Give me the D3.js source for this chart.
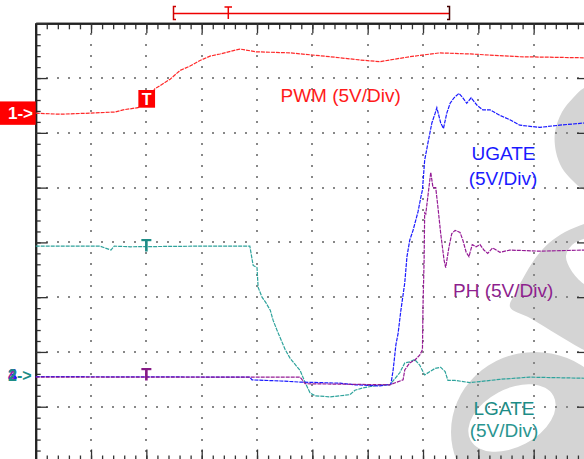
<!DOCTYPE html>
<html>
<head>
<meta charset="utf-8">
<script src="https://cdn.jsdelivr.net/npm/d3@7"></script>
<style>
body{margin:0;background:#fff;}
svg{display:block;font-family:"Liberation Sans",Arial,sans-serif;}
</style>
</head>
<body>
<script>
// Time is in screen divisions (10 div), voltages in volts at 5V/div.

var pwmT = [0, 0.44, 0.98, 1.43, 1.58, 1.85, 2.03, 2.15, 2.43, 2.61, 2.79, 2.97, 3.15, 3.33, 3.69, 3.98, 4.6, 5.32, 5.86, 6.22, 6.76, 7.3, 7.85, 8.75, 9.91, 10];
var pwmV = [0, -0.1, 0, 0.1, 0.3, 0.5, 1.2, 2.2, 3.1, 3.9, 4.3, 4.8, 5.2, 5.4, 5.85, 5.6, 5.5, 5.15, 4.85, 4.7, 5.15, 5.5, 5.4, 5.15, 5.05, 5.05];

var lgateT = [0, 1.16, 1.36, 1.42, 1.71, 2.97, 3.87, 3.93, 4.0, 4.02, 4.09, 4.16, 4.24, 4.29, 4.36, 4.51, 4.6, 4.78, 4.87, 4.96, 5.05, 5.32, 5.68, 5.77, 5.9, 6.22, 6.4, 6.58, 6.67, 6.76, 6.85, 6.94, 7.03, 7.12, 7.22, 7.32, 7.4, 7.45, 7.58, 7.85, 8.03, 8.39, 8.93, 9.91, 10];
var lgateV = [11.86, 11.86, 11.5, 11.86, 11.8, 11.86, 11.86, 10.1, 9.9, 8.1, 7.2, 6.7, 6.0, 5.1, 4.2, 2.4, 1.6, 0.5, -0.6, -1.55, -1.8, -1.9, -1.7, -1.3, -1.1, -0.8, -0.8, 0.3, 1.2, 1.3, 1.5, 1.0, 0.1, 0.4, 0.7, 0.8, 0.4, -0.4, -0.4, -0.6, -0.5, -0.3, -0.1, -0.2, -0.2];

var ugateT = [0, 3.87, 3.91, 4.42, 4.78, 5.5, 5.77, 6.22, 6.42, 6.46, 6.48, 6.51, 6.55, 6.6, 6.67, 6.71, 6.76, 6.82, 6.91, 6.96, 6.99, 7.03, 7.09, 7.16, 7.22, 7.25, 7.32, 7.37, 7.43, 7.49, 7.56, 7.65, 7.72, 7.79, 7.87, 7.98, 8.08, 8.21, 8.39, 8.57, 8.75, 9.11, 9.47, 9.91, 10];
var ugateV = [-0.05, -0.1, -0.35, -0.45, -0.55, -0.65, -0.8, -0.9, -0.75, 0.55, 1.45, 2.85, 3.9, 6.0, 8.5, 10.9, 12.4, 13.3, 15.0, 16.3, 17.0, 19.7, 21.3, 23.1, 24.0, 24.5, 23.1, 22.6, 24.0, 24.9, 25.4, 25.8, 25.4, 24.9, 25.4, 24.7, 24.3, 24.3, 23.8, 23.4, 22.9, 22.7, 22.9, 23.1, 23.1];

var phT = [0, 4.78, 4.87, 6.4, 6.64, 6.67, 6.76, 6.85, 6.94, 6.99, 7.0, 7.02, 7.03, 7.05, 7.14, 7.18, 7.23, 7.27, 7.32, 7.38, 7.41, 7.47, 7.52, 7.58, 7.67, 7.72, 7.78, 7.83, 7.89, 7.96, 8.03, 8.1, 8.17, 8.26, 8.39, 8.57, 9.11, 9.91, 10];
var phV = [-0.1, -0.1, -0.7, -0.8, -0.35, 0.55, 1.2, 1.45, 1.9, 2.4, 6.4, 10.6, 14.9, 14.8, 18.6, 17.2, 17.2, 15.4, 13.0, 10.6, 9.9, 11.8, 13.0, 13.3, 13.1, 12.4, 11.3, 10.9, 12.0, 11.8, 12.0, 11.5, 11.2, 11.7, 11.3, 11.5, 11.4, 11.5, 11.5];

var labels = ["PWM (5V/Div)", "UGATE", "(5V/Div)", "PH (5V/Div)", "LGATE", "(5V/Div)"];

var svg = d3.select("body").append("svg")
  .attr("width", 584)
  .attr("height", 459);

var x = d3.scaleLinear().domain([0, 10]).range([35.7, 589]);
var y = d3.scaleLinear().domain([-4, 4]).range([461.5, 23.3]);

// channel ground markers (divisions from centre)
var pwmOff = 2.36, lowOff = -2.44, trigT = 2;
function chY(off){ return function(v){ return y(off + v / 5); }; }

// background watermark
var wm = d3.line().curve(d3.curveCatmullRomClosed);
var gray = "#d4d4d4";
svg.append("path").attr("fill", gray)
  .attr("d", wm([[600,84],[584,88],[573,98],[562,112],[555,132],[556,152],[562,168],[572,180],[584,190],[600,196]]));
svg.append("path").attr("fill", gray)
  .attr("d", wm([[600,218],[584,224],[565,232],[549,243],[537,256],[526,273],[516,292],[510,307],[530,318],[558,335],[584,350],[600,356],[600,290],[584,284],[571,270],[566,256],[572,245],[586,238],[600,236]]));
svg.append("ellipse").attr("fill", gray)
  .attr("cx", 535).attr("cy", 432).attr("rx", 84).attr("ry", 80);
svg.append("ellipse").attr("fill", "#fff")
  .attr("transform", "translate(512,418) rotate(-28)")
  .attr("rx", 47).attr("ry", 29);

// dotted grid
var dots = svg.append("g").attr("fill", "#888").attr("shape-rendering", "crispEdges");
function dot(px, py){
  dots.append("rect").attr("x", Math.round(px) - 1).attr("y", Math.round(py) - 1).attr("width", 2).attr("height", 2);
}
d3.range(1, 8).forEach(function(k){
  d3.range(1, 50).forEach(function(j){ dot(x(j / 5), y(4 - k)); });
});
d3.range(1, 10).forEach(function(k){
  d3.range(1, 40).forEach(function(j){ dot(x(k), y(4 - j / 5)); });
});

// border with ticks
var minorX = d3.range(0, 10.001, 0.2), majorX = d3.range(0, 11, 1);
var minorY = d3.range(-4, 4.001, 0.2), majorY = d3.range(-4, 5, 1);
function border(g){
  g.selectAll(".domain").attr("stroke", "#222").attr("stroke-width", 2);
  g.selectAll(".tick line").attr("stroke", "#333").attr("stroke-width", 1.3);
}
svg.append("g").attr("transform", "translate(0," + y(4) + ")")
  .call(d3.axisBottom(x).tickValues(minorX).tickSize(6).tickSizeOuter(0).tickFormat("")).call(border);
svg.append("g").attr("transform", "translate(0," + y(4) + ")")
  .call(d3.axisBottom(x).tickValues(majorX).tickSize(10).tickSizeOuter(0).tickFormat("")).call(border);
svg.append("g").attr("transform", "translate(0," + y(-4) + ")")
  .call(d3.axisTop(x).tickValues(minorX).tickSize(6).tickSizeOuter(0).tickFormat("")).call(border);
svg.append("g").attr("transform", "translate(0," + y(-4) + ")")
  .call(d3.axisTop(x).tickValues(majorX).tickSize(12).tickSizeOuter(0).tickFormat("")).call(border);
svg.append("g").attr("transform", "translate(" + x(0) + ",0)")
  .call(d3.axisRight(y).tickValues(minorY).tickSize(5).tickSizeOuter(0).tickFormat("")).call(border);
svg.append("g").attr("transform", "translate(" + x(0) + ",0)")
  .call(d3.axisRight(y).tickValues(majorY).tickSize(12).tickSizeOuter(0).tickFormat("")).call(border);
svg.append("g").attr("transform", "translate(" + x(10) + ",0)")
  .call(d3.axisLeft(y).tickValues(minorY).tickSize(5).tickSizeOuter(0).tickFormat("")).call(border);
svg.append("g").attr("transform", "translate(" + x(10) + ",0)")
  .call(d3.axisLeft(y).tickValues(majorY).tickSize(12).tickSizeOuter(0).tickFormat("")).call(border);

// traces
function trace(ts, vs, off, color){
  var fy = chY(off);
  var line = d3.line().x(function(d){ return x(d[0]); }).y(function(d){ return fy(d[1]); });
  svg.append("path")
    .attr("d", line(d3.zip(ts, vs)))
    .attr("fill", "none")
    .attr("stroke", color)
    .attr("stroke-width", 1.2)
    .attr("stroke-dasharray", "4,1");
}
trace(lgateT, lgateV, lowOff, "#2ea39c");
trace(ugateT, ugateV, lowOff, "#1a1aff");
trace(phT, phV, lowOff, "#951b95");
trace(pwmT, pwmV, pwmOff, "#ff2a2a");

// labels
function label(txt, xx, yy, color, anchor){
  svg.append("text").attr("x", xx).attr("y", yy).attr("fill", color)
    .attr("font-size", 19).attr("text-anchor", anchor || "start").text(txt);
}
label(labels[0], 280.5, 102, "#ff1a1a");
label(labels[1], 503.5, 160, "#1a1aff", "middle");
label(labels[2], 503, 185, "#1a1aff", "middle");
label(labels[3], 453, 297, "#8e1f8e");
label(labels[4], 504, 415, "#1d8c86", "middle");
label(labels[5], 504, 437, "#2a9590", "middle");

// channel 1 marker
var g1 = chY(pwmOff)(0);
svg.append("rect").attr("x", 0).attr("y", g1 - 11.7).attr("width", x(0)).attr("height", 23.4).attr("fill", "#f00");
svg.append("text").attr("x", 8).attr("y", g1 + 6).attr("fill", "#fff").attr("font-size", 17).attr("font-weight", "bold").text("1->");

// channels 2/3/4 marker (overlapping)
var g2 = chY(lowOff)(0);
svg.append("text").attr("x", 8).attr("y", g2 + 5).attr("fill", "#951b95").attr("font-size", 16).attr("font-weight", "bold").text("4");
svg.append("text").attr("x", 8).attr("y", g2 + 5).attr("fill", "#1a1aff").attr("font-size", 16).attr("font-weight", "bold").text("3");
svg.append("text").attr("x", 8).attr("y", g2 + 5).attr("fill", "#1d8c86").attr("font-size", 16).attr("font-weight", "bold").text("2");
svg.append("text").attr("x", 17).attr("y", g2 + 5).attr("fill", "#1d8c86").attr("font-size", 16).attr("font-weight", "bold").text("->");

// trigger box
var tx = x(trigT);
svg.append("rect").attr("x", tx - 8).attr("y", 90).attr("width", 16.7).attr("height", 17.7).attr("fill", "#f00");
svg.append("text").attr("x", tx + 0.3).attr("y", 105).attr("fill", "#fff").attr("font-size", 16).attr("font-weight", "bold").attr("text-anchor", "middle").text("T");

// small T markers on channel 2 and 4
function tMark(yy, color){
  svg.append("rect").attr("x", tx - 5).attr("y", yy).attr("width", 10).attr("height", 2.2).attr("fill", color);
  svg.append("rect").attr("x", tx - 1.3).attr("y", yy).attr("width", 2.6).attr("height", 12.5).attr("fill", color);
}
tMark(239, "#1d8c86");
tMark(368, "#861a86");

// record bracket at top
var br = svg.append("g").attr("fill", "none").attr("stroke-width", 1.5);
br.append("path").attr("stroke", "#e00").attr("d", "M173.5,13.5H449");
br.append("path").attr("stroke", "#c00").attr("d", "M176,6.5H173.5V19.5H176");
br.append("path").attr("stroke", "#400").attr("d", "M447,6.5H449.5V19.5H447");
br.append("path").attr("stroke", "#e00").attr("d", "M224.5,7H232M228.3,7V19");
</script>
</body>
</html>
